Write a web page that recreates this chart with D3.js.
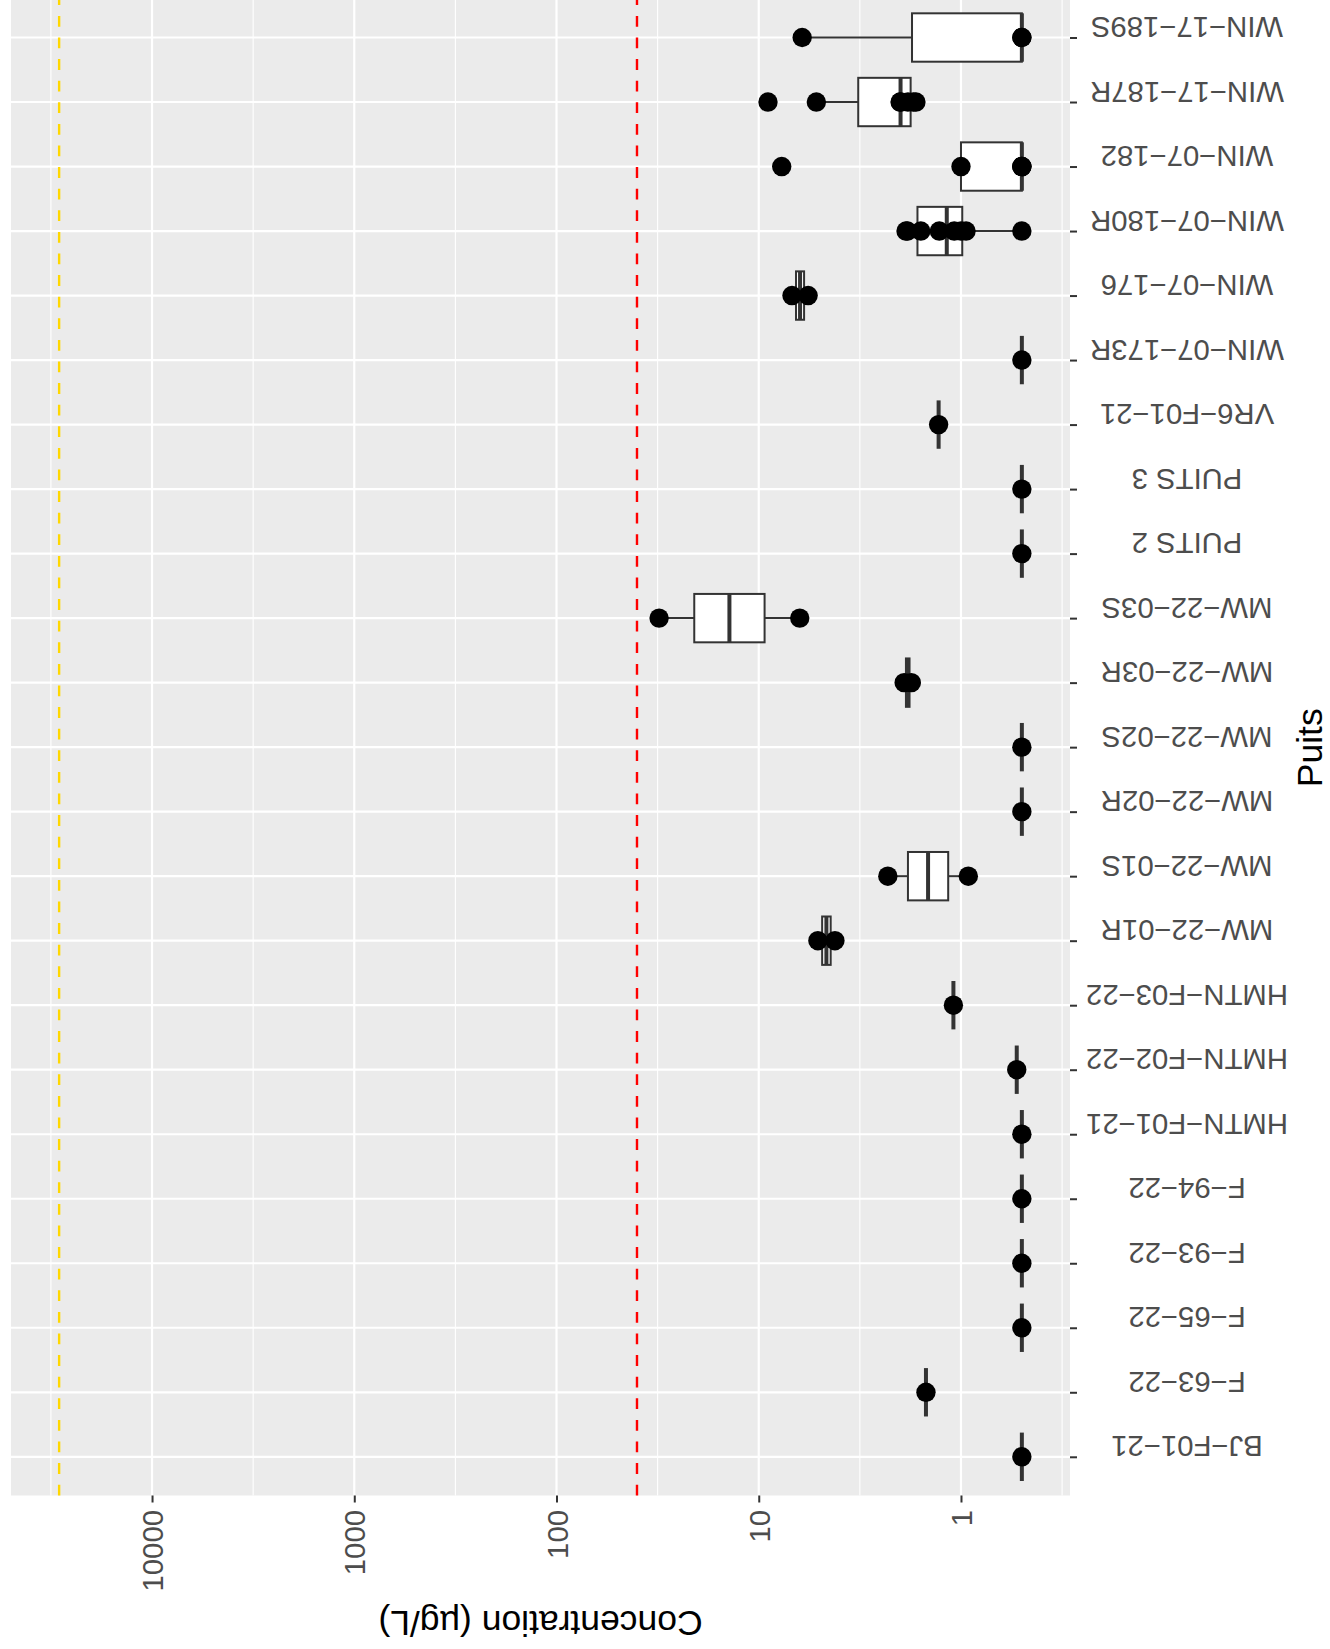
<!DOCTYPE html>
<html>
<head>
<meta charset="utf-8">
<script src="https://cdn.jsdelivr.net/npm/d3@7"></script>
<style>
  html, body { margin: 0; padding: 0; background: #ffffff; }
  svg { display: block; }
  text { font-family: "Liberation Sans", Arial, Helvetica, sans-serif; }
</style>
</head>
<body>
<svg id="chart" width="1330" height="1649"></svg>
<script>
// ---- data ----
const categories = [
  "BJ-F01-21", "F-63-22", "F-65-22", "F-93-22", "F-94-22",
  "HMTN-F01-21", "HMTN-F02-22", "HMTN-F03-22",
  "MW-22-01R", "MW-22-01S", "MW-22-02R", "MW-22-02S", "MW-22-03R", "MW-22-03S",
  "PUITS 2", "PUITS 3", "VR6-F01-21",
  "WIN-07-173R", "WIN-07-176", "WIN-07-180R", "WIN-07-182", "WIN-17-187R", "WIN-17-189S"
];
// concentrations (µg/L) per well, same order as categories
const concentrations = [
  [0.5],
  [1.49],
  [0.5],
  [0.5],
  [0.5],
  [0.5],
  [0.53],
  [1.09],
  [4.2, 5.1],
  [0.92, 2.3],
  [0.5],
  [0.5],
  [1.76, 1.91],
  [6.27, 31.1],
  [0.5],
  [0.5],
  [1.29],
  [0.5],
  [5.7, 6.85],
  [0.5, 0.944, 1.0, 1.08, 1.28, 1.58, 1.84, 1.87],
  [0.5, 0.5, 0.5, 1.0, 7.7],
  [1.67, 1.72, 1.83, 1.99, 2.0, 5.19, 9.0],
  [0.5, 0.5, 6.1]
];
const tickValues = [1, 10, 100, 1000, 10000];
const tickLabels = ["1", "10", "100", "1000", "10000"];
const redThreshold = 40;
const yellowThreshold = 28800;
const xTitle = "Concentration (µg/L)";
const yTitle = "Puits";

// ---- layout ----
const panel = { left: 11, right: 1070, top: -1.2, bottom: 1495.5 };
const svg = d3.select("#chart");

// log scale computed like ggplot (5% expansion in log space)
const allVals = concentrations.flat().concat([redThreshold, yellowThreshold]);
const lmin = Math.log10(d3.min(allVals)), lmax = Math.log10(d3.max(allVals));
const pad = 0.05 * (lmax - lmin);
const x = d3.scaleLog()
  .domain([Math.pow(10, lmin - pad), Math.pow(10, lmax + pad)])
  .range([panel.right, panel.left]);

const y = d3.scalePoint()
  .domain(categories)
  .range([panel.bottom, panel.top])
  .padding(0.6);
const step = y.step();
const boxHalf = step * 0.75 / 2;

// label helper: display with minus signs as in reference
const disp = s => s.replace(/-/g, "\u2212");

// panel background
svg.append("rect")
  .attr("x", panel.left).attr("y", Math.max(0, panel.top))
  .attr("width", panel.right - panel.left)
  .attr("height", panel.bottom - Math.max(0, panel.top))
  .attr("fill", "#EBEBEB");

const grid = svg.append("g");
// minor gridlines (half decades)
const minorVals = d3.range(-1, 6).map(k => Math.pow(10, k + 0.5))
  .filter(v => x(v) > panel.left && x(v) < panel.right);
grid.selectAll("line.minor").data(minorVals).enter().append("line")
  .attr("x1", d => x(d)).attr("x2", d => x(d))
  .attr("y1", panel.top).attr("y2", panel.bottom)
  .attr("stroke", "#ffffff").attr("stroke-width", 1.1);
// major gridlines
grid.selectAll("line.majx").data(tickValues).enter().append("line")
  .attr("x1", d => x(d)).attr("x2", d => x(d))
  .attr("y1", panel.top).attr("y2", panel.bottom)
  .attr("stroke", "#ffffff").attr("stroke-width", 2.2);
grid.selectAll("line.majy").data(categories).enter().append("line")
  .attr("x1", panel.left).attr("x2", panel.right)
  .attr("y1", d => y(d)).attr("y2", d => y(d))
  .attr("stroke", "#ffffff").attr("stroke-width", 2.2);

// boxplot stats in log space (like scale_y_log10 + geom_boxplot)
const stats = categories.map((c, i) => {
  const l = concentrations[i].map(Math.log10).sort(d3.ascending);
  const q1 = d3.quantile(l, 0.25), med = d3.quantile(l, 0.5), q3 = d3.quantile(l, 0.75);
  const iqr = q3 - q1;
  const inside = l.filter(v => v >= q1 - 1.5 * iqr && v <= q3 + 1.5 * iqr);
  return {
    cat: c,
    q1: Math.pow(10, q1), med: Math.pow(10, med), q3: Math.pow(10, q3),
    lo: Math.pow(10, d3.min(inside)), hi: Math.pow(10, d3.max(inside))
  };
});

const boxes = svg.append("g");
const bg = boxes.selectAll("g").data(stats).enter().append("g");
// whiskers
bg.append("line")
  .attr("x1", d => x(d.hi)).attr("x2", d => x(d.q3))
  .attr("y1", d => y(d.cat)).attr("y2", d => y(d.cat))
  .attr("stroke", "#333333").attr("stroke-width", 2);
bg.append("line")
  .attr("x1", d => x(d.q1)).attr("x2", d => x(d.lo))
  .attr("y1", d => y(d.cat)).attr("y2", d => y(d.cat))
  .attr("stroke", "#333333").attr("stroke-width", 2);
// box
bg.append("rect")
  .attr("x", d => x(d.q3)).attr("width", d => Math.max(0, x(d.q1) - x(d.q3)))
  .attr("y", d => y(d.cat) - boxHalf).attr("height", boxHalf * 2)
  .attr("fill", "#ffffff").attr("stroke", "#333333").attr("stroke-width", 2);
// median
bg.append("line")
  .attr("x1", d => x(d.med)).attr("x2", d => x(d.med))
  .attr("y1", d => y(d.cat) - boxHalf).attr("y2", d => y(d.cat) + boxHalf)
  .attr("stroke", "#333333").attr("stroke-width", 4);

// points
const pts = [];
categories.forEach((c, i) => concentrations[i].forEach(v => pts.push({ cat: c, v })));
svg.append("g").selectAll("circle").data(pts).enter().append("circle")
  .attr("cx", d => x(d.v)).attr("cy", d => y(d.cat))
  .attr("r", 9.7).attr("fill", "#000000");

// threshold lines (drawn from bottom upward, dashed)
[[redThreshold, "#FF0000"], [yellowThreshold, "#FFD700"]].forEach(([v, col]) => {
  svg.append("line")
    .attr("x1", x(v)).attr("x2", x(v))
    .attr("y1", panel.bottom).attr("y2", Math.max(0, panel.top))
    .attr("stroke", col).attr("stroke-width", 2.4)
    .attr("stroke-dasharray", "10.8 10.8");
});

// ---- axes ----
const tickFont = 29.3;
const cap = tickFont * 0.716;

const xAxis = d3.axisBottom(x)
  .tickValues(tickValues)
  .tickFormat((d, i) => tickLabels[i])
  .tickSize(7).tickSizeOuter(0);
const gx = svg.append("g").attr("transform", `translate(0,${panel.bottom})`).call(xAxis);
gx.select(".domain").remove();
gx.selectAll(".tick line").attr("stroke", "#333333").attr("stroke-width", 2);
gx.selectAll(".tick text")
  .attr("x", 0).attr("y", 0).attr("dy", null)
  .attr("transform", `translate(${cap / 2},14.5) rotate(-90)`)
  .attr("text-anchor", "end")
  .attr("fill", "#4D4D4D")
  .style("font-size", tickFont + "px")
  .style("font-family", '"Liberation Sans", Arial, sans-serif');

const yAxis = d3.axisRight(y).tickSize(7).tickSizeOuter(0).tickFormat(disp);
const gy = svg.append("g").attr("transform", `translate(${panel.right},0)`).call(yAxis);
gy.select(".domain").remove();
gy.selectAll(".tick line").attr("stroke", "#333333").attr("stroke-width", 2);
gy.selectAll(".tick text")
  .attr("x", 0).attr("y", 0).attr("dy", null)
  .attr("transform", `translate(${1187 - panel.right},${-cap}) rotate(180)`)
  .attr("text-anchor", "middle")
  .attr("fill", "#4D4D4D")
  .style("font-size", tickFont + "px")
  .style("font-family", '"Liberation Sans", Arial, sans-serif');

// axis titles
svg.append("text")
  .attr("transform", `translate(${(panel.left + panel.right) / 2},1611) rotate(180)`)
  .attr("text-anchor", "middle")
  .attr("fill", "#000000")
  .style("font-size", "35.5px")
  .text(xTitle);
svg.append("text")
  .attr("transform", `translate(1322,${(Math.max(0, panel.top) + panel.bottom) / 2}) rotate(-90)`)
  .attr("text-anchor", "middle")
  .attr("fill", "#000000")
  .style("font-size", "35.5px")
  .text(yTitle);
</script>
</body>
</html>
